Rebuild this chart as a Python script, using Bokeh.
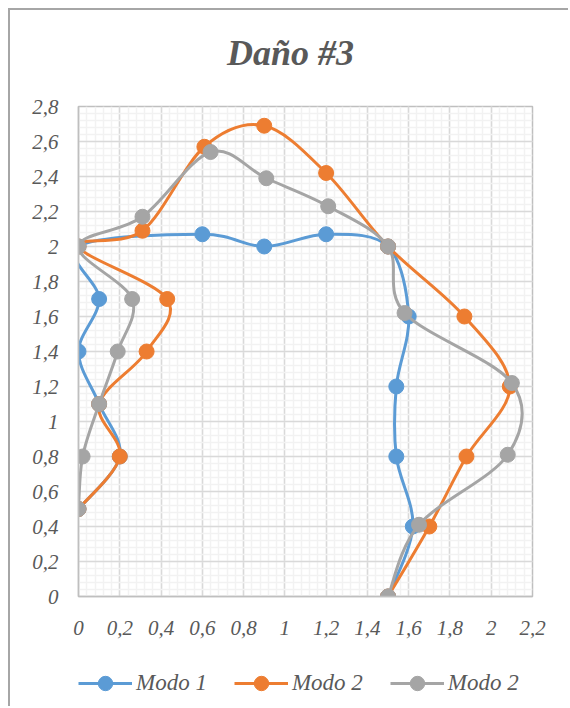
import numpy as np
from bokeh.plotting import figure
from bokeh.layouts import column
from bokeh.models import (Legend, LegendItem, CustomJSTickFormatter, Range1d,
                          FixedTicker, ColumnDataSource, Label)
from bokeh.embed import file_html
from bokeh.resources import INLINE

# ---- data ----
m1_x = [0.0, 0.20, 0.10, 0.0, 0.10, 0.0, 0.60, 0.90, 1.20, 1.50, 1.60, 1.54, 1.54, 1.62, 1.50]
m1_y = [0.5, 0.80, 1.10, 1.40, 1.70, 2.0, 2.07, 2.00, 2.07, 2.00, 1.60, 1.20, 0.80, 0.40, 0.0]

m2_x = [0.0, 0.20, 0.10, 0.33, 0.43, 0.0, 0.31, 0.61, 0.90, 1.20, 1.50, 1.87, 2.09, 1.88, 1.70, 1.50]
m2_y = [0.5, 0.80, 1.10, 1.40, 1.70, 2.0, 2.09, 2.57, 2.69, 2.42, 2.00, 1.60, 1.20, 0.80, 0.40, 0.0]

m3_x = [0.0, 0.02, 0.10, 0.19, 0.26, 0.0, 0.31, 0.64, 0.91, 1.21, 1.50, 1.58, 2.10, 2.08, 1.65, 1.50]
m3_y = [0.5, 0.80, 1.10, 1.40, 1.70, 2.0, 2.17, 2.54, 2.39, 2.23, 2.00, 1.62, 1.22, 0.81, 0.41, 0.0]

title_text = "Daño #3"
series_names = ["Modo 1", "Modo 2", "Modo 2"]
colors = ["#5B9BD5", "#ED7D31", "#A5A5A5"]
x_ticks = [0, 0.2, 0.4, 0.6, 0.8, 1.0, 1.2, 1.4, 1.6, 1.8, 2.0, 2.2]
y_ticks = [0, 0.2, 0.4, 0.6, 0.8, 1.0, 1.2, 1.4, 1.6, 1.8, 2.0, 2.2, 2.4, 2.6, 2.8]

FONT = "Liberation Serif"
TXT = "#595959"
W, BL, BR = 558, 68, 36


def smooth_segments(xs, ys):
    """Bezier segments (Catmull-Rom style smoothing, as in Excel smoothed lines)."""
    P = np.column_stack([xs, ys]).astype(float)
    n = len(P)
    d = dict(x0=[], y0=[], x1=[], y1=[], cx0=[], cy0=[], cx1=[], cy1=[])
    for i in range(n - 1):
        p0 = P[i - 1] if i > 0 else P[i]
        p1 = P[i]
        p2 = P[i + 1]
        p3 = P[i + 2] if i + 2 < n else P[i + 1]
        c1 = p1 + (p2 - p0) / 6.0
        c2 = p2 - (p3 - p1) / 6.0
        d["x0"].append(p1[0]); d["y0"].append(p1[1])
        d["x1"].append(p2[0]); d["y1"].append(p2[1])
        d["cx0"].append(c1[0]); d["cy0"].append(c1[1])
        d["cx1"].append(c2[0]); d["cy1"].append(c2[1])
    return d


def strip(height):
    f = figure(width=W, height=height, output_backend="svg", toolbar_location=None,
               x_range=Range1d(100, 101), y_range=Range1d(100, 101),
               x_axis_location=None, y_axis_location=None,
               min_border_left=BL, min_border_right=BR, min_border_top=0, min_border_bottom=0)
    f.outline_line_color = None
    f.grid.visible = False
    return f


# ---------------- title strip ----------------
ts = strip(84)
ts.add_layout(Label(x=212, y=42, x_units="screen", y_units="screen", text=title_text,
                    text_font=FONT, text_font_size="36px", text_font_style="bold italic",
                    text_color=TXT, text_align="center", text_baseline="alphabetic"))

# ---------------- main chart ----------------
p = figure(width=W, height=556, output_backend="svg", toolbar_location=None,
           x_range=Range1d(0, 2.2), y_range=Range1d(0, 2.8),
           min_border_left=BL, min_border_right=BR, min_border_top=12,
           min_border_bottom=54)

p.outline_line_color = "#BFBFBF"
p.outline_line_width = 1.5

for ax, ticks in ((p.xaxis, x_ticks), (p.yaxis, y_ticks)):
    ax.ticker = FixedTicker(ticks=ticks,
                            minor_ticks=list(np.round(np.arange(0, max(ticks) + 1e-9, 0.04), 4)))
    ax.formatter = CustomJSTickFormatter(
        code="var s = (Math.round(tick*10)/10).toString(); return s.replace('.', ',');")
    ax.major_label_text_font = FONT
    ax.major_label_text_font_size = "21px"
    ax.major_label_text_font_style = "italic"
    ax.major_label_text_color = TXT
    ax.major_tick_out = 0
    ax.major_tick_in = 0
    ax.minor_tick_out = 0
    ax.minor_tick_in = 0
    ax.axis_line_color = "#BFBFBF"
    ax.axis_line_width = 1.5
p.xaxis.major_label_standoff = 24
p.yaxis.major_label_standoff = 20

for g in (p.xgrid, p.ygrid):
    g.grid_line_color = "#D9D9D9"
    g.grid_line_width = 1.5
    g.minor_grid_line_color = "#F2F2F2"
    g.minor_grid_line_width = 1.5

# ---------------- legend strip ----------------
lg = strip(56)

items = []
for (xs, ys), name, col in zip(((m1_x, m1_y), (m2_x, m2_y), (m3_x, m3_y)), series_names, colors):
    seg = smooth_segments(xs, ys)
    p.bezier(x0="x0", y0="y0", x1="x1", y1="y1", cx0="cx0", cy0="cy0",
             cx1="cx1", cy1="cy1", source=ColumnDataSource(seg), line_color=col, line_width=3)
    p.scatter(xs, ys, size=15, fill_color=col, line_color=col)
    # same series in the legend strip (outside its visible range) so the legend can show them
    l_line = lg.line(xs, ys, line_color=col, line_width=3)
    l_pts = lg.scatter(xs, ys, size=15, fill_color=col, line_color=col)
    items.append(LegendItem(label=name, renderers=[l_line, l_pts]))

legend = Legend(items=items, orientation="horizontal", location=(0, 5),
                label_text_font=FONT, label_text_font_size="23px",
                label_text_font_style="italic", label_text_color=TXT,
                glyph_width=54, glyph_height=36, label_height=36,
                label_standoff=4, spacing=27, padding=0, margin=0,
                border_line_color=None, background_fill_alpha=0)
lg.add_layout(legend, "center")

layout = column(ts, p, lg, spacing=0)
layout.styles = {"margin-left": "8px", "margin-top": "8px",
                 "border-left": "2px solid #A6A6A6", "border-top": "2px solid #A6A6A6"}

open("out.html", "w").write(file_html(layout, INLINE))
